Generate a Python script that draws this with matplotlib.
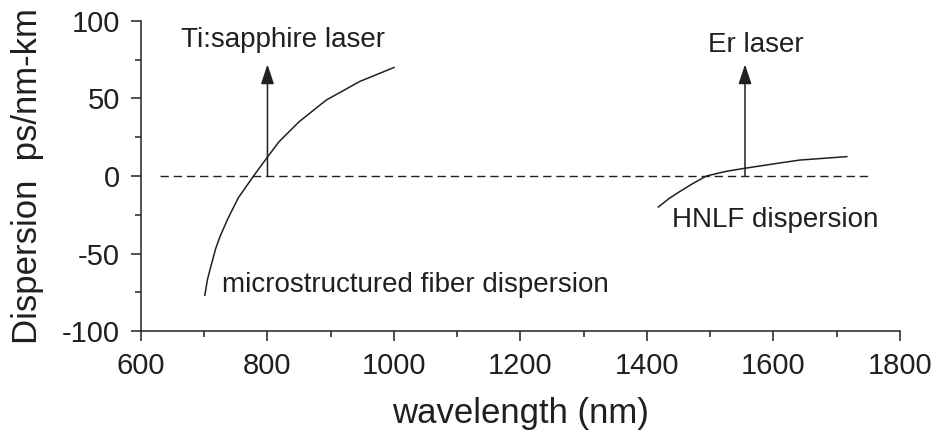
import matplotlib
matplotlib.use("Agg")
import matplotlib.pyplot as plt
from matplotlib.ticker import MultipleLocator

plt.rcParams['font.family'] = ['Liberation Sans', 'DejaVu Sans']
plt.rcParams['axes.unicode_minus'] = False

msf_wavelength = [701, 705, 712, 718, 725, 738, 754, 766, 778, 796, 818, 850, 893, 946, 1000]
msf_dispersion = [-77, -67, -56, -47, -39, -27, -14, -7, 0, 10, 22, 35, 49, 61, 70]

hnlf_wavelength = [1418, 1435, 1452, 1472, 1494, 1525, 1555, 1600, 1642, 1716]
hnlf_dispersion = [-20, -14.5, -10, -5, 0, 3, 5, 7.8, 10.3, 12.5]

zero_line_x = [630, 1750]
zero_line_y = [0, 0]

# laser lines (wavelength) and arrow tip height
ti_sapphire_nm = 800
er_laser_nm = 1555
arrow_top = 72

text_color = '#231f20'

fig = plt.figure(figsize=(9.41, 4.4), dpi=100)
ax = fig.add_axes([0.1498, 0.2477, 0.8066, 0.7046])

ax.plot(zero_line_x, zero_line_y, color=text_color, lw=1.0, dashes=(6, 3.5))
ax.plot(msf_wavelength, msf_dispersion, color=text_color, lw=1.1)
ax.plot(hnlf_wavelength, hnlf_dispersion, color=text_color, lw=1.1)

for wl in [ti_sapphire_nm, er_laser_nm]:
    ax.annotate('', xy=(wl, arrow_top), xytext=(wl, 0),
                arrowprops=dict(arrowstyle='-|>,head_length=0.6,head_width=0.2',
                                color=text_color, lw=1.1, mutation_scale=20,
                                shrinkA=0, shrinkB=0))

ax.text(825, 83.4, 'Ti:sapphire laser', ha='center', va='baseline',
        fontsize=20, color=text_color)
ax.text(1572, 80.2, 'Er laser', ha='center', va='baseline',
        fontsize=20, color=text_color)
ax.text(728, -74.8, 'microstructured fiber dispersion', ha='left', va='baseline',
        fontsize=20, color=text_color)
ax.text(1440, -32.7, 'HNLF dispersion', ha='left', va='baseline',
        fontsize=20, color=text_color)

ax.set_xlim(600, 1800)
ax.set_ylim(-100, 100)
ax.xaxis.set_major_locator(MultipleLocator(200))
ax.xaxis.set_minor_locator(MultipleLocator(100))
ax.yaxis.set_major_locator(MultipleLocator(50))
ax.yaxis.set_minor_locator(MultipleLocator(25))

for side in ['top', 'right']:
    ax.spines[side].set_visible(False)
for side in ['left', 'bottom']:
    ax.spines[side].set_linewidth(1.1)
    ax.spines[side].set_color(text_color)

ax.tick_params(which='major', length=7, width=1.1, color=text_color,
               labelsize=21, labelcolor=text_color, pad=8)
ax.tick_params(which='minor', length=4.5, width=1.1, color=text_color)

ax.set_xlabel('wavelength (nm)', fontsize=25, color=text_color, labelpad=12)
ax.set_ylabel('Dispersion  ps/nm-km', fontsize=25, color=text_color, labelpad=13)

fig.savefig('out.png', dpi=100)
